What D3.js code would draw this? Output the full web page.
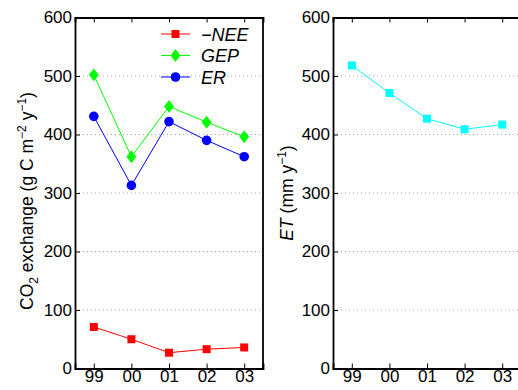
<!DOCTYPE html>
<html>
<head>
<meta charset="utf-8">
<script src="https://cdn.jsdelivr.net/npm/d3@7"></script>
<style>
  body { margin: 0; background: #fff; }
  svg { display: block; font-family: "Liberation Sans", Arial, sans-serif; }
</style>
</head>
<body>
<div id="chart"></div>
<script>
(function() {
  'use strict';
  var WIDTH = 518;
  var HEIGHT = 390;

  var years = ['99', '00', '01', '02', '03'];
  var nee = [71, 50, 27, 33, 36];
  var gep = [502, 362, 448, 421, 396];
  var er = [431, 313, 422, 390, 362];
  var et = [518, 471, 427, 409, 417];
  var yTicks = [0, 100, 200, 300, 400, 500, 600];

  var svg = d3.select('#chart').append('svg')
    .attr('width', WIDTH)
    .attr('height', HEIGHT);

  function panel(left, right) {
    var top = 17.5, bottom = 368.5;
    var x = d3.scaleLinear().domain([-0.5, years.length - 0.5]).range([left, right]);
    var y = d3.scaleLinear().domain([0, 600]).range([bottom, top]);
    var g = svg.append('g');

    // dotted grid
    g.selectAll('line.grid').data(yTicks.filter(function(t) { return t > 0 && t < 600; }))
      .enter().append('line')
      .attr('x1', left).attr('x2', right)
      .attr('y1', function(d) { return y(d); }).attr('y2', function(d) { return y(d); })
      .attr('stroke', '#aaa').attr('stroke-width', 1).attr('stroke-dasharray', '1,3');

    var yAxis = d3.axisLeft(y).tickValues(yTicks).tickSize(-5).tickPadding(3);
    var gy = g.append('g').attr('transform', 'translate(' + left + ',0)').call(yAxis);
    var xAxis = d3.axisBottom(x).tickValues(d3.range(years.length))
      .tickFormat(function(i) { return years[i]; }).tickSize(-5).tickPadding(1.5);
    var gx = g.append('g').attr('transform', 'translate(0,' + bottom + ')').call(xAxis);
    var xTop = d3.axisTop(x).tickValues(d3.range(years.length)).tickFormat('').tickSize(-5);
    var gt = g.append('g').attr('transform', 'translate(0,' + top + ')').call(xTop);

    [gy, gx, gt].forEach(function(a) {
      a.selectAll('path').attr('stroke', '#000').attr('stroke-width', 1.8);
      a.selectAll('line').attr('stroke', '#000').attr('stroke-width', 1);
      a.selectAll('text').attr('fill', '#000').style('font-size', '17px');
    });
    // right border
    g.append('line').attr('x1', right).attr('x2', right).attr('y1', top).attr('y2', bottom)
      .attr('stroke', '#000').attr('stroke-width', 1.8);
    return {g: g, x: x, y: y};
  }

  // matlab-style diamond: a bit taller than wide
  var symbolTallDiamond = {
    draw: function(ctx, size) {
      var w = Math.sqrt(size) * 0.62, h = w * 1.3;
      ctx.moveTo(0, -h);
      ctx.lineTo(w, 0);
      ctx.lineTo(0, h);
      ctx.lineTo(-w, 0);
      ctx.closePath();
    }
  };

  function series(p, vals, color, shape) {
    var line = d3.line()
      .x(function(d, i) { return p.x(i); })
      .y(function(d) { return p.y(d); });
    p.g.append('path').datum(vals).attr('d', line)
      .attr('fill', 'none').attr('stroke', color).attr('stroke-width', 1);
    var sym = d3.symbol().type(shape.type).size(shape.size);
    p.g.selectAll(null).data(vals).enter().append('path')
      .attr('d', sym)
      .attr('transform', function(d, i) {
        return 'translate(' + p.x(i) + ',' + p.y(d) + ')';
      })
      .attr('fill', color);
  }

  var SQUARE = {type: d3.symbolSquare, size: 64};
  var DIAMOND = {type: symbolTallDiamond, size: 64};
  var CIRCLE = {type: d3.symbolCircle, size: 72};

  var p1 = panel(75, 263);
  series(p1, nee, '#ff0000', SQUARE);
  series(p1, gep, '#00ff00', DIAMOND);
  series(p1, er, '#0000ff', CIRCLE);

  var p2 = panel(333, 521);
  series(p2, et, '#00ffff', SQUARE);

  // legend
  var legend = [
    {name: '\u2212NEE', color: '#ff0000', shape: SQUARE},
    {name: 'GEP', color: '#00ff00', shape: DIAMOND},
    {name: 'ER', color: '#0000ff', shape: CIRCLE}
  ];
  var lg = svg.append('g');
  legend.forEach(function(d, i) {
    var ly = 34 + i * 21.5;
    lg.append('line').attr('x1', 161).attr('x2', 190).attr('y1', ly).attr('y2', ly)
      .attr('stroke', d.color).attr('stroke-width', 1);
    lg.append('path').attr('d', d3.symbol().type(d.shape.type).size(d.shape.size))
      .attr('transform', 'translate(175.5,' + ly + ')')
      .attr('fill', d.color);
    lg.append('text').attr('x', 201).attr('y', ly + 6.5)
      .style('font-size', '18px').style('font-style', 'italic').text(d.name);
  });

  // y labels
  var l1 = svg.append('text')
    .attr('transform', 'translate(33,201) rotate(-90)')
    .attr('text-anchor', 'middle').style('font-size', '17.5px');
  l1.append('tspan').text('CO');
  l1.append('tspan').attr('dy', 5).style('font-size', '12px').text('2');
  l1.append('tspan').attr('dy', -5).text(' exchange (g C m');
  l1.append('tspan').attr('dy', -7).style('font-size', '12px').text('\u22122');
  l1.append('tspan').attr('dy', 7).text(' y');
  l1.append('tspan').attr('dy', -7).style('font-size', '12px').text('\u22121');
  l1.append('tspan').attr('dy', 7).text(')');

  var l2 = svg.append('text')
    .attr('transform', 'translate(293,193) rotate(-90)')
    .attr('text-anchor', 'middle').style('font-size', '17.5px');
  l2.append('tspan').style('font-style', 'italic').text('ET');
  l2.append('tspan').text(' (mm y');
  l2.append('tspan').attr('dy', -7).style('font-size', '12px').text('\u22121');
  l2.append('tspan').attr('dy', 7).text(')');
})();
</script>
</body>
</html>
